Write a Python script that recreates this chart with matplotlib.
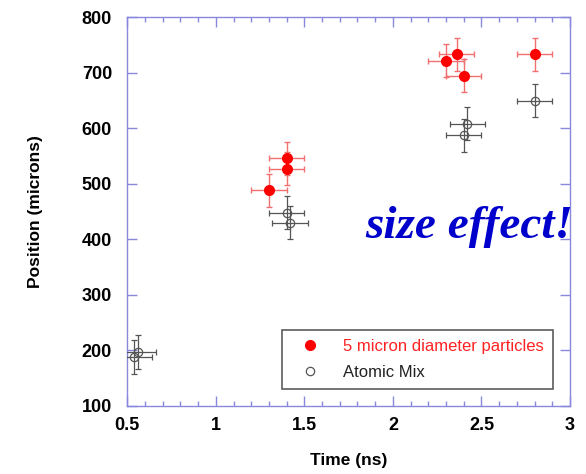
import matplotlib
matplotlib.use("Agg")
import matplotlib.pyplot as plt
from matplotlib.ticker import MultipleLocator
from matplotlib.lines import Line2D

plt.rcParams['font.family'] = ['Liberation Sans', 'DejaVu Sans']

# 5 micron diameter particles
part_t = [1.30, 1.40, 1.40, 2.30, 2.36, 2.40, 2.80]
part_pos = [488, 546, 527, 722, 733, 695, 733]
part_terr = [0.10, 0.10, 0.10, 0.10, 0.10, 0.10, 0.10]
part_perr = [30, 30, 30, 30, 30, 30, 30]

# Atomic mix
mix_t = [0.54, 0.56, 1.40, 1.42, 2.40, 2.42, 2.80]
mix_pos = [188, 197, 448, 430, 587, 608, 650]
mix_terr = [0.10, 0.10, 0.10, 0.10, 0.10, 0.10, 0.10]
mix_perr = [30, 30, 30, 30, 30, 30, 30]

xticks = [0.5, 1, 1.5, 2, 2.5, 3]
xticklabels = ['0.5', '1', '1.5', '2', '2.5', '3']
yticks = [100, 200, 300, 400, 500, 600, 700, 800]

fig = plt.figure(figsize=(5.86, 4.74), dpi=100)
ax = fig.add_axes([0.2172, 0.1441, 0.7555, 0.8194])

ax.errorbar(part_t, part_pos, xerr=part_terr, yerr=part_perr, fmt='o',
            color='#ff0000', ms=7, mec='#ff0000', ecolor='#f07070',
            elinewidth=1.0, capsize=2.5, capthick=1.0, zorder=3)
ax.errorbar(mix_t, mix_pos, xerr=mix_terr, yerr=mix_perr, fmt='o',
            mfc='none', mec='#555555', mew=0.9, ms=6, ecolor='#555555',
            elinewidth=0.9, capsize=2.5, capthick=0.9, zorder=3)

ax.set_xlim(0.5, 3)
ax.set_ylim(100, 800)
ax.set_xticks(xticks)
ax.set_xticklabels(xticklabels)
ax.set_yticks(yticks)
ax.xaxis.set_minor_locator(MultipleLocator(0.1))

spine_color = '#8888dd'
for s in ax.spines.values():
    s.set_color(spine_color)
    s.set_linewidth(1.0)
ax.tick_params(which='major', direction='in', length=7, width=1.0,
               color=spine_color, top=True, right=True, labelsize=13)
ax.tick_params(axis='y', which='major', pad=11)
ax.tick_params(axis='x', which='major', pad=8)
ax.tick_params(which='minor', direction='in', length=3.5, width=1.0,
               color=spine_color, top=True, right=False, left=False)
for lab in ax.get_xticklabels() + ax.get_yticklabels():
    lab.set_fontweight('bold')

ax.set_xlabel('Time (ns)', fontsize=12.5, fontweight='bold', labelpad=14)
ax.set_ylabel('Position (microns)', fontsize=12.5, fontweight='bold', labelpad=28)

ax.text(1.006, 0.432, 'size effect!', transform=ax.transAxes, ha='right',
        va='baseline', fontsize=34, fontweight='bold', fontstyle='italic',
        family='Liberation Serif', color='#0000cc', clip_on=False)

handles = [
    Line2D([], [], ls='none', marker='o', ms=7, color='#ff0000'),
    Line2D([], [], ls='none', marker='o', ms=6, mfc='none', mec='#555555', mew=0.9),
]
labels = ['5 micron diameter particles', 'Atomic Mix']
leg = ax.legend(handles, labels, loc='lower right',
                bbox_to_anchor=(0.9616, 0.043), fontsize=12,
                frameon=True, fancybox=False, edgecolor='#333333',
                handletextpad=0.9, borderpad=0.55, labelspacing=0.65,
                handlelength=2.2, borderaxespad=0)
leg.get_frame().set_linewidth(1.2)
leg.get_texts()[0].set_color('#ff2222')
leg.get_texts()[1].set_color('#222222')

fig.savefig('out.png', dpi=100)
